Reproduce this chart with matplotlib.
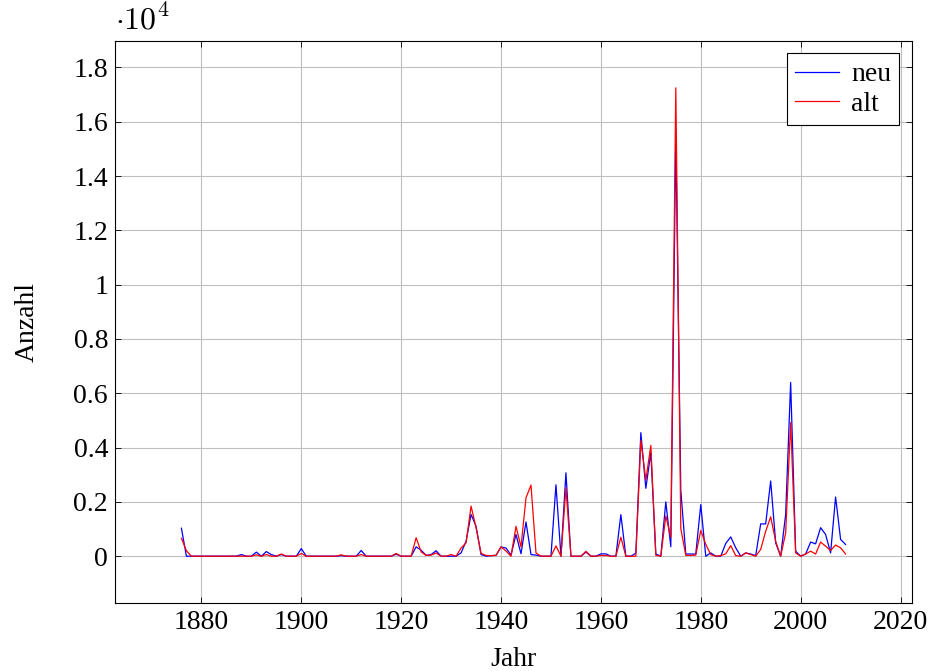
import matplotlib
matplotlib.use('Agg')
import matplotlib.pyplot as plt
from matplotlib.ticker import FuncFormatter, MultipleLocator

# Police style Times (comme le document LaTeX)
plt.rcParams['font.family'] = 'serif'
plt.rcParams['font.serif'] = ['Liberation Serif']
plt.rcParams['mathtext.fontset'] = 'cm'

# Données : une valeur par année, 1876 - 2009
years = list(range(1876, 2010))

neu = [
    1030, 0, 0, 0,                                      # 1876-1879
    0, 0, 0, 0, 0, 0, 0, 0, 60, 0,                      # 1880-1889
    0, 150, 0, 170, 60, 0, 60, 0, 0, 0,                 # 1890-1899
    280, 0, 0, 0, 0, 0, 0, 0, 20, 0,                    # 1900-1909
    0, 0, 210, 0, 0, 0, 0, 0, 0, 70,                    # 1910-1919
    0, 0, 0, 345, 220, 30, 60, 200, 0, 0,               # 1920-1929
    0, 0, 120, 550, 1540, 1100, 60, 0, 20, 30,          # 1930-1939
    340, 300, 40, 800, 90, 1260, 60, 40, 0, 0,          # 1940-1949
    0, 2630, 0, 3070, 0, 0, 0, 150, 0, 0,               # 1950-1959
    85, 85, 0, 0, 1530, 0, 0, 110, 4550, 2500,          # 1960-1969
    3820, 80, 0, 2000, 350, 15500, 2430, 80, 80, 80,    # 1970-1979
    1900, 0, 120, 0, 0, 470, 710, 310, 0, 120,          # 1980-1989
    80, 20, 1190, 1190, 2770, 490, 0, 1540, 6400, 185,  # 1990-1999
    0, 80, 520, 455, 1050, 800, 120, 2180, 620, 430,    # 2000-2009
]

alt = [
    660, 200, 0, 0,                                     # 1876-1879
    0, 0, 0, 0, 0, 0, 0, 0, 0, 0,                       # 1880-1889
    0, 50, 0, 60, 0, 0, 80, 0, 0, 0,                    # 1890-1899
    100, 0, 0, 0, 0, 0, 0, 0, 50, 0,                    # 1900-1909
    0, 0, 60, 0, 0, 0, 0, 0, 0, 100,                    # 1910-1919
    0, 0, 0, 680, 160, 30, 40, 120, 0, 0,               # 1920-1929
    60, 0, 300, 490, 1845, 1050, 100, 30, 20, 30,       # 1930-1939
    345, 190, 0, 1100, 340, 2150, 2620, 120, 0, 0,      # 1940-1949
    0, 380, 0, 2520, 0, 0, 0, 180, 0, 0,                # 1950-1959
    25, 25, 0, 0, 700, 0, 0, 0, 4260, 2800,             # 1960-1969
    4080, 30, 0, 1480, 700, 17250, 1020, 30, 30, 40,    # 1970-1979
    950, 440, 60, 0, 20, 90, 390, 20, 0, 120,           # 1980-1989
    60, 0, 250, 920, 1450, 550, 0, 860, 4920, 120,      # 1990-1999
    0, 80, 185, 80, 520, 370, 210, 410, 310, 80,        # 2000-2009
]

fig = plt.figure(figsize=(9.29, 6.71), dpi=100)
ax = fig.add_axes([0.1238, 0.1013, 0.8579, 0.8376])

ax.plot(years, neu, color='blue', lw=0.9, label='neu')
ax.plot(years, alt, color='red', lw=0.9, label='alt')

# Limites élargies comme pgfplots (10 %)
ax.set_xlim(1862.7, 2022.3)
ax.set_ylim(-1725, 18975)

ax.xaxis.set_major_locator(MultipleLocator(20))
ax.yaxis.set_major_locator(MultipleLocator(2000))
ax.yaxis.set_major_formatter(FuncFormatter(lambda v, p: f'{v / 1e4:g}'))

ax.grid(True, color='#bfbfbf', lw=0.8)
ax.set_axisbelow(True)
ax.tick_params(direction='in', length=4, width=0.6, labelsize=20, pad=5,
               top=True, right=True)
for s in ax.spines.values():
    s.set_linewidth(0.8)

# Facteur d'échelle en haut à gauche
ax.text(0, 1.008, r'$\cdot10^{4}$', transform=ax.transAxes,
        fontsize=23, ha='left', va='bottom')

ax.set_xlabel('Jahr', fontsize=20)
ax.set_ylabel('Anzahl', fontsize=20)
ax.xaxis.set_label_coords(0.5, -0.101)
ax.xaxis.label.set_va('center')
ax.yaxis.set_label_coords(-0.11, 0.5)
ax.yaxis.label.set_va('center')

leg = ax.legend(loc='upper right', fontsize=20, fancybox=False,
                framealpha=1, edgecolor='black', handlelength=1.55,
                borderpad=0.3, labelspacing=0.15, handletextpad=0.45,
                borderaxespad=0.45)
leg.get_frame().set_linewidth(0.8)

plt.savefig('out.png', dpi=100)
